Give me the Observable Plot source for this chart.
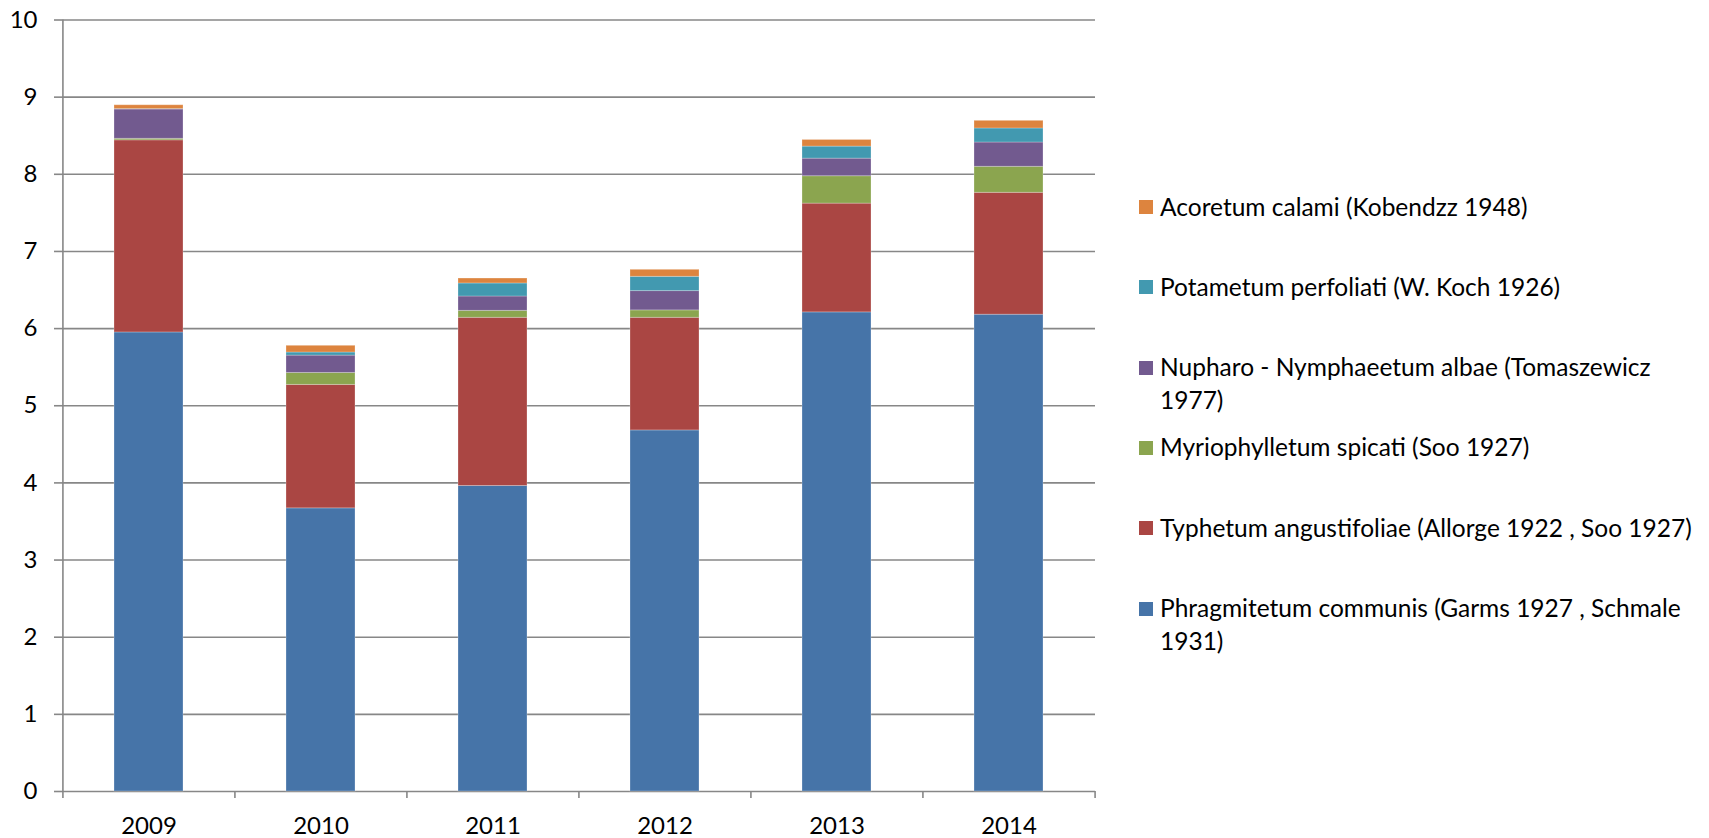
<!DOCTYPE html>
<html>
<head>
<meta charset="utf-8">
<script src="https://cdn.jsdelivr.net/npm/d3@7"></script>
<script src="https://cdn.jsdelivr.net/npm/@observablehq/plot@0.6"></script>
<style>
  html, body { margin: 0; padding: 0; background: #fff; }
  #wrap { position: relative; width: 1709px; height: 838px; font-family: Lato, "Open Sans", sans-serif; }
  #chart { position: absolute; left: 0; top: 0; }
  #legend { position: absolute; left: 1139px; top: 190.6px; color: #000; font-size: 24.5px; }
  .item { display: flex; align-items: flex-start; height: 80.3px; }
  .sw { width: 14px; height: 14px; margin-top: 9.5px; margin-right: 7px; flex: none; }
  .lbl { line-height: 32.7px; white-space: nowrap; }
</style>
</head>
<body>
<div id="wrap"><div id="chart"></div><div id="legend"></div></div>
<script>
const years = ["2009", "2010", "2011", "2012", "2013", "2014"];
// series, bottom to top of each stack
const seriesNames = [
  "Phragmitetum communis (Garms 1927 , Schmale 1931)",
  "Typhetum angustifoliae (Allorge 1922 , Soo 1927)",
  "Myriophylletum spicati (Soo 1927)",
  "Nupharo - Nymphaeetum albae (Tomaszewicz 1977)",
  "Potametum perfoliati (W. Koch 1926)",
  "Acoretum calami (Kobendzz 1948)"
];
// legend lines as wrapped in the reference
const legendLines = [
  ["Phragmitetum communis (Garms 1927 , Schmale", "1931)"],
  ["Typhetum angustifoliae (Allorge 1922 , Soo 1927)"],
  ["Myriophylletum spicati (Soo 1927)"],
  ["Nupharo - Nymphaeetum albae (Tomaszewicz", "1977)"],
  ["Potametum perfoliati (W. Koch 1926)"],
  ["Acoretum calami (Kobendzz 1948)"]
];
const colors = ["#4674A8", "#AA4643", "#8BA54F", "#725A8F", "#4299B0", "#DD843E"];

const phragmitetum = [5.95, 3.67, 3.96, 4.68, 6.21, 6.18];
const typhetum     = [2.49, 1.60, 2.18, 1.46, 1.41, 1.58];
const myriophyllet = [0.02, 0.155, 0.09, 0.096, 0.355, 0.337];
const nupharo      = [0.38, 0.225, 0.186, 0.25, 0.228, 0.315];
const potametum    = [0.005, 0.04, 0.169, 0.185, 0.156, 0.182];
const acoretum     = [0.05, 0.087, 0.064, 0.091, 0.086, 0.099];

const yTicks = [0, 1, 2, 3, 4, 5, 6, 7, 8, 9, 10];

const seriesValues = [phragmitetum, typhetum, myriophyllet, nupharo, potametum, acoretum];
const data = seriesNames.flatMap((s, si) =>
  years.map((y, i) => ({year: y, series: s, value: seriesValues[si][i]})));

const W = 1110, H = 838, ML = 62, MR = 15, MT = 19.5, MB = 47;
const step = (W - ML - MR) / years.length;
const gray = "#878787";

const plot = Plot.plot({
  width: W, height: H,
  marginLeft: ML, marginRight: MR, marginTop: MT, marginBottom: MB,
  style: {fontFamily: "Lato, 'Open Sans', sans-serif", fontSize: "24px", color: "#000", background: "#fff", overflow: "visible"},
  x: {domain: years, paddingInner: 0.6, paddingOuter: 0.3, label: null},
  y: {domain: [0, 10], label: null},
  color: {domain: seriesNames, range: colors},
  marks: [
    Plot.gridY(yTicks, {stroke: gray, strokeOpacity: 1, strokeWidth: 1.6}),
    Plot.barY(data, {x: "year", y: "value", fill: "series", stroke: "#fff", strokeOpacity: 0.25, strokeWidth: 1}),
    Plot.ruleX([years[0]], {dx: -step / 2, stroke: gray, strokeWidth: 1.6}),
    Plot.axisY(yTicks, {tickSize: 8, tickPadding: 17, tickFormat: d3.format("d"), stroke: gray, strokeWidth: 1.6, fill: "#000", fontSize: 24}),
    Plot.axisX(years, {tickSize: 7, tickFormat: () => "", dx: -step / 2, stroke: gray, strokeWidth: 1.6}),
    Plot.axisX([years[years.length - 1]], {tickSize: 7, tickFormat: () => "", dx: step / 2, stroke: gray, strokeWidth: 1.6}),
    Plot.axisX(years, {tickSize: 0, tickPadding: 25, fill: "#000", fontSize: 24})
  ]
});
document.getElementById("chart").appendChild(plot);

const legend = d3.select("#legend");
// legend listed top to bottom in reverse stacking order
for (let k = seriesNames.length - 1; k >= 0; k--) {
  const it = legend.append("div").attr("class", "item");
  it.append("div").attr("class", "sw").style("background", colors[k]);
  it.append("div").attr("class", "lbl").html(legendLines[k].join("<br>"));
}
</script>
</body>
</html>
